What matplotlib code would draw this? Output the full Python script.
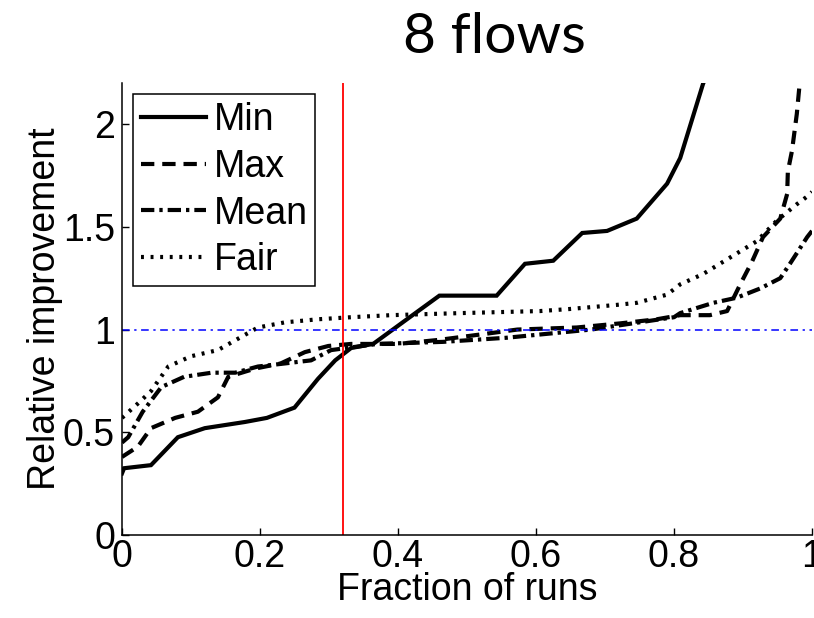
import matplotlib.pyplot as plt

# Values
min_x = [0.0, 0.003, 0.042, 0.081, 0.12, 0.178, 0.21, 0.25, 0.284, 0.309, 0.332, 0.364,
         0.417, 0.46, 0.543, 0.584, 0.625, 0.667, 0.703, 0.746, 0.79, 0.809, 0.842, 0.86]
min_y = [0.30, 0.325, 0.34, 0.476, 0.52, 0.55, 0.57, 0.62, 0.76, 0.85, 0.91, 0.93,
         1.06, 1.165, 1.165, 1.32, 1.335, 1.47, 1.48, 1.54, 1.71, 1.835, 2.195, 2.35]

max_x = [0.0, 0.023, 0.042, 0.077, 0.11, 0.139, 0.154, 0.193, 0.23, 0.265, 0.299, 0.332,
         0.4, 0.46, 0.54, 0.573, 0.659, 0.722, 0.775, 0.809, 0.852, 0.877, 0.896, 0.913,
         0.929, 0.954, 0.964, 0.965, 0.971, 0.978, 0.985]
max_y = [0.38, 0.43, 0.52, 0.57, 0.60, 0.67, 0.77, 0.81, 0.835, 0.89, 0.92, 0.93,
         0.93, 0.95, 0.985, 1.0, 1.01, 1.03, 1.05, 1.07, 1.07, 1.09, 1.22, 1.33,
         1.45, 1.54, 1.66, 1.77, 1.87, 2.05, 2.3]

mean_x = [0.0, 0.009, 0.03, 0.057, 0.09, 0.13, 0.164, 0.197, 0.236, 0.274, 0.303, 0.37,
          0.465, 0.557, 0.68, 0.8, 0.809, 0.857, 0.891, 0.925, 0.954, 0.968, 0.993, 1.0]
mean_y = [0.45, 0.476, 0.60, 0.72, 0.77, 0.79, 0.79, 0.82, 0.835, 0.85, 0.90, 0.93,
          0.94, 0.96, 1.0, 1.06, 1.08, 1.13, 1.155, 1.2, 1.25, 1.32, 1.45, 1.48]

fair_x = [0.0, 0.023, 0.042, 0.067, 0.1, 0.139, 0.168, 0.197, 0.236, 0.284, 0.332, 0.39,
          0.49, 0.606, 0.649, 0.717, 0.746, 0.79, 0.809, 0.842, 0.881, 0.92, 0.949,
          0.978, 0.994, 1.0]
fair_y = [0.57, 0.64, 0.70, 0.82, 0.87, 0.90, 0.955, 1.01, 1.035, 1.05, 1.06, 1.07,
          1.08, 1.09, 1.10, 1.12, 1.13, 1.17, 1.22, 1.27, 1.35, 1.43, 1.53,
          1.61, 1.65, 1.67]

cut_x = 0.32
ref_y = 1.0

plt.rcParams['font.family'] = ['Liberation Sans', 'DejaVu Sans']

fig = plt.figure(figsize=(8.14, 6.18), dpi=100)
ax = fig.add_axes([122 / 814, 1 - 535 / 618, 690 / 814, 452 / 618])

lw = 3.0
ax.plot(min_x, min_y, color='black', lw=lw, label='Min', solid_joinstyle='miter')
ax.plot(max_x, max_y, color='black', lw=lw, dashes=(3.2, 1.9), label='Max')
ax.plot(mean_x, mean_y, color='black', lw=lw, dashes=(3.2, 1.2, 0.8, 1.2), label='Mean')
ax.plot(fair_x, fair_y, color='black', lw=lw, dashes=(0.7, 1.6), label='Fair')

ax.axvline(cut_x, color='red', lw=1.3)
ax.axhline(ref_y, color='blue', lw=1.1, dashes=(5, 3, 1.5, 3))

ax.set_xlim(0, 1)
ax.set_ylim(0, 2.2)
ax.set_xticks([0, 0.2, 0.4, 0.6, 0.8, 1])
ax.set_xticklabels(['0', '0.2', '0.4', '0.6', '0.8', '1'])
ax.set_yticks([0, 0.5, 1, 1.5, 2])
ax.set_yticklabels(['0', '0.5', '1', '1.5', '2'])
ax.tick_params(direction='in', length=5, width=1, labelsize=27)
ax.tick_params(axis='x', pad=3)
ax.tick_params(axis='y', pad=5)
ax.spines['top'].set_visible(False)
ax.spines['right'].set_visible(False)
for s in ['left', 'bottom']:
    ax.spines[s].set_linewidth(1.1)

ax.set_xlabel('Fraction of runs', fontsize=27, labelpad=-2)
ax.set_ylabel('Relative improvement', fontsize=27, labelpad=0)

leg = ax.legend(loc='upper left', fontsize=27, handlelength=1.75, handletextpad=0.2,
                labelspacing=0.29, borderpad=0.2, borderaxespad=0.3, fancybox=False,
                framealpha=1)
leg.get_frame().set_edgecolor('black')
leg.get_frame().set_linewidth(1.1)

fig.text(494 / 814, 1 - 53 / 618, '8 flows', fontsize=41, family=['Lato', 'DejaVu Sans'],
         ha='center', va='baseline')

fig.savefig('out.png', dpi=100)
